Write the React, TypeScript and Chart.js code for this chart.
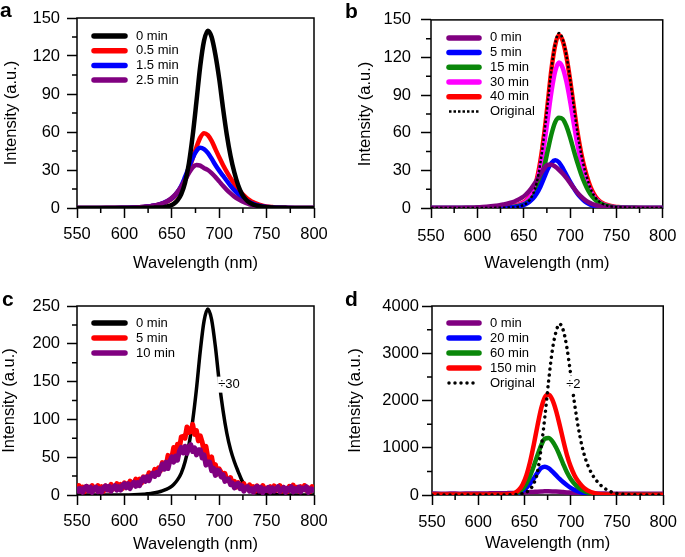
import React, { useEffect, useRef } from 'react';
import { Chart, registerables } from 'chart.js';

Chart.register(...registerables);

const FONT = '"Liberation Sans", Arial, Helvetica, sans-serif';

// ---------- shared axes ----------
const xTicks = [550, 600, 650, 700, 750, 800];
const xMinorTicks = [575, 625, 675, 725, 775];
const yTicksAB = [0, 30, 60, 90, 120, 150];
const yMinorAB = [15, 45, 75, 105, 135];
const yTicksC = [0, 50, 100, 150, 200, 250];
const yMinorC = [25, 75, 125, 175, 225];
const yTicksD = [0, 1000, 2000, 3000, 4000];
const yMinorD = [500, 1500, 2500, 3500];

// wavelength grid (nm) for the smooth spectra
const wavelengths = [
  550, 560, 570, 580, 590, 600, 610,
  620, 624, 628, 632, 636, 640, 644, 648, 652, 656, 660, 664, 668, 672, 676, 680, 684,
  688, 692, 696, 700, 704, 708, 712, 716, 720, 724, 728, 732, 736, 740, 744, 748, 752, 756, 760,
  770, 780, 790, 800,
];

// wavelength grid (nm) for the noisy spectra of panel c
const wavelengthsFine = [
  550, 552, 554, 556, 558, 560, 562, 564, 566, 568,
  570, 572, 574, 576, 578, 580, 582, 584, 586, 588,
  590, 592, 594, 596, 598, 600, 602, 604, 606, 608,
  610, 612, 614, 616, 618, 620, 622, 624, 626, 628,
  630, 632, 634, 636, 638, 640, 642, 644, 646, 648,
  650, 652, 654, 656, 658, 660, 662, 664, 666, 668,
  670, 672, 674, 676, 678, 680, 682, 684, 686, 688,
  690, 692, 694, 696, 698, 700, 702, 704, 706, 708,
  710, 712, 714, 716, 718, 720, 722, 724, 726, 728,
  730, 732, 734, 736, 738, 740, 742, 744, 746, 748,
  750, 752, 754, 756, 758, 760, 762, 764, 766, 768,
  770, 772, 774, 776, 778, 780, 782, 784, 786, 788,
  790, 792, 794, 796, 798, 800,
];

// ---------- panel a ----------
const labelsA = ['0 min', '0.5 min', '1.5 min', '2.5 min'];
const a0min = [
  0, 0, 0, 0, 0, 0, 0,
  0.1, 0.15, 0.2, 0.3, 0.4, 0.5, 1.0, 1.8, 3.2, 6, 11, 20, 35, 57, 84, 112, 132,
  140, 135, 121, 102, 79, 58, 41, 28, 18, 11, 6.8, 4.2, 2.7, 1.8, 1.2, 0.8, 0.5, 0.35, 0.25,
  0.1, 0, 0, 0,
];
const a05min = [
  0, 0, 0, 0, 0, 0.2, 0.4,
  0.8, 1.1, 1.5, 2, 2.6, 3.4, 4.6, 6.2, 8.5, 11.8, 16.5, 23, 30.5, 39, 48, 55.5, 59,
  57.5, 53, 46.5, 40, 34, 28.5, 23.5, 19, 15, 11.5, 8.6, 6.3, 4.5, 3.2, 2.2, 1.5, 1, 0.7, 0.4,
  0.1, 0, 0, 0,
];
const a15min = [
  0, 0, 0, 0, 0, 0.2, 0.4,
  0.8, 1.1, 1.5, 2, 2.7, 3.6, 5, 6.6, 9, 12.5, 17.5, 24.5, 32, 39.5, 45, 47.5, 46.5,
  43.5, 39, 34, 29.5, 25.5, 21.5, 17.5, 14, 11, 8.5, 6.3, 4.6, 3.3, 2.3, 1.6, 1.1, 0.7, 0.5, 0.3,
  0.1, 0, 0, 0,
];
const a25min = [
  0, 0, 0, 0.1, 0.1, 0.2, 0.4,
  0.8, 1.1, 1.5, 2, 2.7, 3.6, 5, 6.8, 9.3, 12.7, 17, 22, 27.5, 32, 34, 33.5, 31.5,
  30, 27.5, 24.5, 21, 17.5, 14.3, 11.5, 9, 7, 5.3, 4, 2.9, 2.1, 1.5, 1, 0.7, 0.5, 0.3, 0.2,
  0.1, 0, 0, 0,
];

// ---------- panel b ----------
const labelsB = ['0 min', '5 min', '15 min', '30 min', '40 min', 'Original'];
const b0min = [
  0, 0, 0, 0, 0.2, 0.5, 1,
  1.8, 2.2, 2.8, 3.4, 4.2, 5.2, 6.5, 8.2, 10.5, 13.5, 17.5, 22, 27, 31.5, 34.5, 34.5, 33,
  30.5, 27.5, 24, 20, 16, 12.2, 9, 6.5, 4.6, 3.2, 2.2, 1.5, 1, 0.7, 0.5, 0.3, 0.2, 0.1, 0,
  0, 0, 0, 0,
];
const b5min = [
  0, 0, 0, 0, 0, 0, 0.1,
  0.2, 0.25, 0.3, 0.4, 0.5, 0.7, 1, 1.8, 3, 4.8, 7.5, 11.5, 17, 24, 31, 36, 38,
  36.5, 32, 26.5, 21, 16, 11.5, 8, 5.3, 3.4, 2.1, 1.3, 0.8, 0.5, 0.3, 0.2, 0.1, 0, 0, 0,
  0, 0, 0, 0,
];
const b15min = [
  0, 0, 0, 0, 0, 0.1, 0.2,
  0.3, 0.4, 0.5, 0.6, 0.8, 1.1, 1.6, 2.4, 3.6, 5.5, 8.5, 13.5, 21.5, 32.5, 46, 59, 68.5,
  72, 71, 65.5, 56.5, 46, 36, 27, 19.5, 13.5, 9, 6, 4, 2.6, 1.7, 1.1, 0.7, 0.5, 0.3, 0.2,
  0.1, 0, 0, 0,
];
const b30min = [
  0, 0, 0, 0, 0, 0.1, 0.2,
  0.3, 0.4, 0.5, 0.7, 1, 1.5, 2.2, 3.3, 5, 7.8, 12.3, 20, 32.5, 50, 71.5, 93, 109,
  116, 112, 101, 85.5, 67.5, 50.5, 36.5, 25.5, 17, 11, 7, 4.5, 2.9, 1.9, 1.3, 0.9, 0.6, 0.4, 0.3,
  0.1, 0, 0, 0,
];
const b40min = [
  0, 0, 0, 0, 0, 0.1, 0.2,
  0.3, 0.4, 0.6, 0.8, 1.2, 1.8, 2.6, 3.8, 5.6, 8.5, 13.5, 22.5, 37.5, 58.5, 84, 111, 130,
  138, 133.5, 121, 102.5, 81, 60.5, 44, 31, 21, 13.5, 8.6, 5.5, 3.6, 2.4, 1.6, 1.1, 0.8, 0.6, 0.4,
  0.15, 0, 0, 0,
];
const bOriginal = [
  0, 0, 0, 0, 0, 0, 0,
  0.1, 0.15, 0.2, 0.3, 0.4, 0.5, 1.0, 1.8, 3.2, 6, 11, 20, 36, 58, 84, 111, 131,
  139.5, 135, 122, 103, 81, 60, 43, 30, 20, 12.5, 7.8, 4.8, 3, 2, 1.3, 0.9, 0.6, 0.4, 0.3,
  0.1, 0, 0, 0,
];

// ---------- panel c ----------
const labelsC = ['0 min', '5 min', '10 min'];
const c0min = [
  0, 0, 0, 0, 0, 0, 0.3,
  1, 1.5, 2, 3, 4, 5.5, 7.5, 10, 14, 20, 29, 44, 66, 98, 140, 190, 230,
  246, 232, 196, 150, 112, 82, 60, 44, 31, 19, 11, 6.5, 4, 2.5, 1.6, 1, 0.6, 0.4, 0.3,
  0.1, 0, 0, 0,
];
const c5min = [
  6.5, 12.5, 5.5, 10.5, 4.5, 11.5, 9.5, 5.5, 12.5, 6.5,
  6.5, 12.5, 5.5, 11, 5, 12, 10.5, 6.5, 14, 8,
  8.5, 15, 8.5, 14, 8.5, 16, 14.5, 11, 18.5, 13,
  14, 21, 15, 21, 16, 24, 23.5, 21, 29.5, 25,
  26.5, 34, 29, 36, 32, 42.8, 42.1, 38.2, 52.4, 46.3,
  49.8, 62.9, 55.2, 67.2, 61.6, 76.8, 77.6, 75.2, 89.9, 82.8,
  83.8, 93.4, 80.2, 85.2, 71.6, 78.3, 70.1, 58.2, 64.4, 49.8,
  45.3, 50.4, 35.7, 40.2, 27.6, 34.5, 30, 23.5, 28.5, 20.5,
  18.5, 23, 14.5, 18, 10.5, 16.5, 13.5, 8.5, 15, 8.5,
  8, 13.5, 6.5, 11, 5, 12, 9.5, 5.5, 12.5, 6.5,
  9, 5.5, 11, 7, 12, 6, 8.5, 12.5, 5, 10,
  7.5, 4.5, 11.5, 9, 13, 6, 10, 5, 11, 8,
  12.5, 6, 9.5, 4.5, 11, 8,
];
const c10min = [
  11, 5, 8.5, 3.5, 9.5, 11.5, 5.5, 10.5, 3.5, 8.5,
  10.5, 4.5, 8.5, 4, 10, 12, 6.5, 11.5, 5, 10,
  12.5, 6.5, 11, 6.5, 13, 15, 9.5, 15, 8.5, 14,
  17, 11.5, 16.5, 12.5, 19.5, 23, 18, 24.5, 19, 25.5,
  29, 24.5, 30, 27, 35, 41, 34, 43.5, 35, 45,
  50.5, 43.5, 51.5, 46, 58, 63, 55.5, 64.5, 55, 63.5,
  66.5, 57.5, 62.5, 53, 60, 60, 49, 53, 39.5, 43.5,
  43.5, 32, 35.5, 26, 33, 32, 24, 27, 18, 21,
  21, 13.5, 16, 9.5, 14.5, 15.5, 8.5, 12.5, 5, 9.5,
  11, 5, 8.5, 3.5, 9.5, 11.5, 5, 10, 3, 8,
  6, 10, 4, 9.5, 5, 8, 11, 4.5, 7.5, 10,
  3.5, 9, 6, 11, 4, 8.5, 5.5, 10.5, 4, 9,
  7, 11, 3.5, 8, 6, 10,
];

// ---------- panel d ----------
const labelsD = ['0 min', '20 min', '60 min', '150 min', 'Original'];
const d0min = [
  30, 28, 30, 29, 31, 32, 34,
  36, 37, 38, 40, 42, 45, 48, 52, 56, 61, 66, 71, 75, 78, 78, 76, 72,
  67, 61, 55, 50, 45, 41, 38, 35, 33, 32, 31, 30, 30, 29, 29, 29, 28, 28, 28,
  28, 27, 27, 27,
];
const d20min = [
  5, 5, 5, 5, 5, 5, 5,
  5, 6, 7, 9, 14, 25, 48, 88, 150, 240, 350, 470, 570, 600, 570, 500, 420,
  340, 270, 205, 150, 108, 75, 50, 33, 21, 13, 8, 5, 4, 4, 4, 4, 4, 4, 4,
  4, 4, 4, 4,
];
const d60min = [
  5, 5, 5, 5, 5, 5, 5,
  5, 6, 8, 10, 16, 30, 65, 130, 240, 400, 610, 840, 1050, 1190, 1205, 1140, 1010,
  840, 650, 475, 340, 240, 165, 110, 70, 45, 28, 17, 10, 7, 5, 5, 5, 5, 5, 5,
  5, 5, 5, 5,
];
const d150min = [
  8, 8, 8, 8, 8, 8, 8,
  9, 10, 12, 15, 22, 48, 109, 223, 414, 697, 1061, 1464, 1830, 2070, 2125, 2020, 1792,
  1484, 1149, 840, 600, 420, 290, 195, 125, 80, 50, 30, 18, 12, 8, 6, 5, 5, 5, 5,
  5, 5, 5, 5,
];
const dOriginal = [
  0, 0, 0, 0, 0, 0, 0,
  0, 0, 0, 2, 4, 8, 15, 30, 60, 120, 240, 480, 1000, 1650, 2400, 3050, 3450,
  3620, 3480, 3100, 2550, 1950, 1450, 1050, 760, 560, 410, 300, 215, 150, 100, 65, 40, 25, 15, 9,
  3, 0, 0, 0,
];

// ---------- configuration ----------
type SeriesDef = {
  label: string;
  x: number[];
  y: number[];
  color: string;
  width: number;
  drawOrder: number;
  dash?: number[];
  cap?: CanvasLineCap;
  noisy?: boolean;
  legendWidth?: number;
};

type PanelCfg = {
  letter: string;
  letterPos: [number, number];
  left: number;
  top: number;
  w: number;
  h: number;
  area: { l: number; t: number; r: number; b: number };
  yMax: number;
  yTicks: number[];
  yMinor: number[];
  series: SeriesDef[];
  legend: { x0: number; x1: number; tx: number; y0: number; dy: number };
  yTitlePad: number;
  xTitlePad: number;
  xTickPad: number;
  yTickPad: number;
  note?: { text: string; x: number; y: number };
};

const BLACK = '#000000';
const RED = '#ff0000';
const BLUE = '#0000ff';
const PURPLE = '#800080';
const GREEN = '#0a870a';
const MAGENTA = '#ff00ff';

const panels: PanelCfg[] = [
  {
    letter: 'a', letterPos: [0, 17], left: 0, top: 0, w: 342, h: 278,
    area: { l: 77, t: 18, r: 314, b: 208 },
    yMax: 150, yTicks: yTicksAB, yMinor: yMinorAB,
    series: [
      { label: labelsA[0], x: wavelengths, y: a0min, color: BLACK, width: 4.5, drawOrder: 0 },
      { label: labelsA[1], x: wavelengths, y: a05min, color: RED, width: 4.5, drawOrder: 3 },
      { label: labelsA[2], x: wavelengths, y: a15min, color: BLUE, width: 4.5, drawOrder: 2 },
      { label: labelsA[3], x: wavelengths, y: a25min, color: PURPLE, width: 4.5, drawOrder: 1 },
    ],
    legend: { x0: 17, x1: 48, tx: 59, y0: 18, dy: 14.7 },
    yTitlePad: 1.8, xTitlePad: 4.6, xTickPad: 7, yTickPad: 7,
  },
  {
    letter: 'b', letterPos: [3, 18], left: 342, top: 0, w: 343, h: 278,
    area: { l: 89, t: 18, r: 328, b: 208 },
    yMax: 150, yTicks: yTicksAB, yMinor: yMinorAB,
    series: [
      { label: labelsB[0], x: wavelengths, y: b0min, color: PURPLE, width: 4.5, drawOrder: 1 },
      { label: labelsB[1], x: wavelengths, y: b5min, color: BLUE, width: 4.5, drawOrder: 2 },
      { label: labelsB[2], x: wavelengths, y: b15min, color: GREEN, width: 4.5, drawOrder: 3 },
      { label: labelsB[3], x: wavelengths, y: b30min, color: MAGENTA, width: 4.5, drawOrder: 4 },
      { label: labelsB[4], x: wavelengths, y: b40min, color: RED, width: 4.5, drawOrder: 5 },
      { label: labelsB[5], x: wavelengths, y: bOriginal, color: BLACK, width: 2.5, drawOrder: 0, dash: [2.5, 2], cap: 'butt', legendWidth: 2.5 },
    ],
    legend: { x0: 18, x1: 48, tx: 59, y0: 18, dy: 14.7 },
    yTitlePad: 13.6, xTitlePad: 5, xTickPad: 8.5, yTickPad: 10,
  },
  {
    letter: 'c', letterPos: [2, 28], left: 0, top: 278, w: 342, h: 279,
    area: { l: 77, t: 28, r: 314, b: 217 },
    yMax: 250, yTicks: yTicksC, yMinor: yMinorC,
    series: [
      { label: labelsC[0], x: wavelengths, y: c0min, color: BLACK, width: 3.5, drawOrder: 2 },
      { label: labelsC[1], x: wavelengthsFine, y: c5min, color: RED, width: 5, drawOrder: 1, noisy: true },
      { label: labelsC[2], x: wavelengthsFine, y: c10min, color: PURPLE, width: 5, drawOrder: 0, noisy: true },
    ],
    legend: { x0: 17, x1: 48, tx: 59, y0: 17, dy: 15 },
    yTitlePad: 0, xTitlePad: 2.4, xTickPad: 6.6, yTickPad: 7,
    note: { text: '÷30', x: 710.3, y: 146 },
  },
  {
    letter: 'd', letterPos: [3, 28], left: 342, top: 278, w: 343, h: 279,
    area: { l: 90, t: 28, r: 328, b: 217 },
    yMax: 4000, yTicks: yTicksD, yMinor: yMinorD,
    series: [
      { label: labelsD[0], x: wavelengths, y: d0min, color: PURPLE, width: 4.5, drawOrder: 4 },
      { label: labelsD[1], x: wavelengths, y: d20min, color: BLUE, width: 4.5, drawOrder: 3 },
      { label: labelsD[2], x: wavelengths, y: d60min, color: GREEN, width: 4.5, drawOrder: 2 },
      { label: labelsD[3], x: wavelengths, y: d150min, color: RED, width: 4.5, drawOrder: 1 },
      { label: labelsD[4], x: wavelengths, y: dOriginal, color: BLACK, width: 3.5, drawOrder: 0, dash: [0.001, 6], cap: 'round', legendWidth: 3.5 },
    ],
    legend: { x0: 17, x1: 47, tx: 58, y0: 17, dy: 15 },
    yTitlePad: 3.8, xTitlePad: 4.1, xTickPad: 8, yTickPad: 3,
    note: { text: '÷2', x: 702.8, y: 2349 },
  },
];

const TICK_FONT = 16.5;
const TITLE_FONT = 16.5;
const LEGEND_FONT = 13;

function Panel({ cfg }: { cfg: PanelCfg }) {
  const ref = useRef<HTMLCanvasElement>(null);

  useEffect(() => {
    const canvas = ref.current;
    if (!canvas) return;
    const { area } = cfg;

    const datasets = cfg.series.map((s) => ({
      label: s.label,
      data: s.x.map((xv, i) => ({ x: xv, y: s.y[i] })),
      borderColor: s.color,
      backgroundColor: s.color,
      borderWidth: s.width,
      borderDash: s.dash || [],
      borderCapStyle: s.cap || 'butt',
      borderJoinStyle: 'round',
      pointRadius: 0,
      pointHoverRadius: 0,
      fill: false,
      tension: s.noisy ? 0 : 0.3,
      cubicInterpolationMode: s.noisy ? 'default' : 'monotone',
      order: s.drawOrder,
    }));

    const decor = {
      id: 'decor',
      beforeDatasetsDraw(chart: any) {
        const ctx = chart.ctx as CanvasRenderingContext2D;
        const ca = chart.chartArea;
        const xs = chart.scales.x;
        const ys = chart.scales.y;
        ctx.save();
        ctx.strokeStyle = '#000';
        ctx.lineWidth = 1.5;
        ctx.strokeRect(ca.left, ca.top, ca.right - ca.left, ca.bottom - ca.top);
        ctx.beginPath();
        for (const v of xMinorTicks) {
          const p = xs.getPixelForValue(v);
          ctx.moveTo(p, ca.bottom);
          ctx.lineTo(p, ca.bottom + 5);
        }
        for (const v of cfg.yMinor) {
          const p = ys.getPixelForValue(v);
          ctx.moveTo(ca.left - 5, p);
          ctx.lineTo(ca.left, p);
        }
        ctx.stroke();
        ctx.restore();
      },
      afterDatasetsDraw(chart: any) {
        const ctx = chart.ctx as CanvasRenderingContext2D;
        const ca = chart.chartArea;
        const xs = chart.scales.x;
        const ys = chart.scales.y;
        ctx.save();
        if (cfg.note) {
          ctx.font = `${LEGEND_FONT}px ${FONT}`;
          const px = xs.getPixelForValue(cfg.note.x);
          const py = ys.getPixelForValue(cfg.note.y);
          const tw = ctx.measureText(cfg.note.text).width;
          ctx.fillStyle = '#fff';
          ctx.fillRect(px - tw / 2 - 1, py - 8, tw + 2, 16);
          ctx.fillStyle = '#000';
          ctx.textAlign = 'center';
          ctx.textBaseline = 'middle';
          ctx.fillText(cfg.note.text, px, py);
        }
        const lg = cfg.legend;
        cfg.series.forEach((s, i) => {
          const y = ca.top + lg.y0 + i * lg.dy;
          ctx.beginPath();
          ctx.strokeStyle = s.color;
          ctx.lineWidth = s.legendWidth || 5.5;
          ctx.lineCap = s.cap || 'round';
          ctx.setLineDash(s.dash || []);
          ctx.moveTo(ca.left + lg.x0, y);
          ctx.lineTo(ca.left + lg.x1, y);
          ctx.stroke();
          ctx.setLineDash([]);
          ctx.fillStyle = '#000';
          ctx.font = `${LEGEND_FONT}px ${FONT}`;
          ctx.textAlign = 'left';
          ctx.textBaseline = 'middle';
          ctx.fillText(s.label, ca.left + lg.tx, y);
        });
        ctx.fillStyle = '#000';
        ctx.font = `bold 21px ${FONT}`;
        ctx.textAlign = 'left';
        ctx.textBaseline = 'alphabetic';
        ctx.fillText(cfg.letter, cfg.letterPos[0], cfg.letterPos[1]);
        ctx.restore();
      },
    };

    const chart = new Chart(canvas, {
      type: 'line',
      data: { datasets: datasets as any },
      options: {
        responsive: false,
        animation: false,
        devicePixelRatio: 1,
        events: [],
        layout: { padding: { left: 0, top: area.t, right: cfg.w - area.r, bottom: 0 } },
        plugins: { legend: { display: false }, tooltip: { enabled: false } },
        scales: {
          x: {
            type: 'linear',
            min: 550,
            max: 800,
            afterFit: (s: any) => { s.height = cfg.h - area.b; },
            afterBuildTicks: (s: any) => { s.ticks = xTicks.map((v) => ({ value: v })); },
            ticks: {
              callback: (v: any) => String(v),
              color: '#000',
              font: { family: FONT, size: TICK_FONT },
              padding: cfg.xTickPad,
              maxRotation: 0,
              autoSkip: false,
            },
            grid: { display: true, drawOnChartArea: false, drawTicks: true, tickLength: 10, tickWidth: 1.5, tickColor: '#000', color: '#000' },
            border: { display: false },
            title: {
              display: true,
              text: 'Wavelength (nm)',
              color: '#000',
              font: { family: FONT, size: TITLE_FONT },
              padding: { top: 0, bottom: cfg.xTitlePad },
            },
          },
          y: {
            type: 'linear',
            min: 0,
            max: cfg.yMax,
            afterFit: (s: any) => { s.width = area.l; },
            afterBuildTicks: (s: any) => { s.ticks = cfg.yTicks.map((v) => ({ value: v })); },
            ticks: {
              callback: (v: any) => String(v),
              color: '#000',
              font: { family: FONT, size: TICK_FONT },
              padding: cfg.yTickPad,
              autoSkip: false,
            },
            grid: { display: true, drawOnChartArea: false, drawTicks: true, tickLength: 10, tickWidth: 1.5, tickColor: '#000', color: '#000' },
            border: { display: false },
            title: {
              display: true,
              text: 'Intensity (a.u.)',
              color: '#000',
              font: { family: FONT, size: TITLE_FONT },
              padding: { top: cfg.yTitlePad, bottom: 0 },
            },
          },
        },
      } as any,
      plugins: [decor],
    });

    return () => chart.destroy();
  }, [cfg]);

  return (
    <canvas
      ref={ref}
      width={cfg.w}
      height={cfg.h}
      style={{ position: 'absolute', left: cfg.left, top: cfg.top, width: cfg.w, height: cfg.h }}
    />
  );
}

export default function App() {
  return (
    <div style={{ position: 'absolute', left: 0, top: 0, width: 685, height: 557, background: '#fff', overflow: 'hidden' }}>
      {panels.map((p) => (
        <Panel key={p.letter} cfg={p} />
      ))}
    </div>
  );
}
